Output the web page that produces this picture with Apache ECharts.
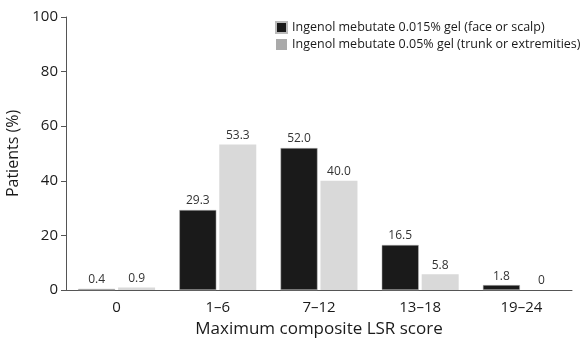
<!DOCTYPE html>
<html>
<head>
<meta charset="utf-8">
<script src="https://cdn.jsdelivr.net/npm/echarts@6/dist/echarts.min.js"></script>
<style>
  html, body { margin: 0; padding: 0; background: #fff; }
  #chart { width: 583px; height: 340px; }
</style>
</head>
<body>
<div id="chart"></div>
<script>
var categories = ['0', '1\u20136', '7\u201312', '13\u201318', '19\u201324']
var faceScalp = [0.4, 29.3, 52.0, 16.5, 1.8]
var trunkExtremities = [0.9, 53.3, 40.0, 5.8, 0]
var seriesNames = [
  'Ingenol mebutate 0.015% gel (face or scalp)',
  'Ingenol mebutate 0.05% gel (trunk or extremities)'
]

var font = 'Open Sans'
var chart = echarts.init(document.getElementById('chart'))

function fmt(p) {
  return p.value === 0 ? '0' : p.value.toFixed(1)
}

chart.setOption({
  animation: false,
  textStyle: { fontFamily: font },
  grid: { left: 66, right: 11, top: 17, bottom: 50, outerBoundsMode: 'none' },
  legend: {
    orient: 'vertical',
    left: 270,
    top: 16,
    icon: 'rect',
    itemWidth: 11,
    itemHeight: 11,
    itemGap: 4,
    textStyle: { fontSize: 12.5, color: '#1a1a1a', fontFamily: font },
    data: [
      { name: seriesNames[0], itemStyle: { color: '#1a1a1a' } },
      { name: seriesNames[1], itemStyle: { color: '#aaaaaa' } }
    ]
  },
  xAxis: {
    type: 'category',
    data: categories,
    name: 'Maximum composite LSR score',
    nameLocation: 'middle',
    nameGap: 31,
    nameTextStyle: { fontSize: 17, color: '#1a1a1a' },
    axisLine: { lineStyle: { color: '#555', width: 1 } },
    axisTick: { length: 6, lineStyle: { color: '#555' } },
    axisLabel: { fontSize: 15, color: '#1a1a1a', margin: 10 }
  },
  yAxis: {
    type: 'value',
    min: 0,
    max: 100,
    interval: 20,
    name: 'Patients (%)',
    nameLocation: 'middle',
    nameGap: 41,
    nameTextStyle: { fontSize: 16, color: '#1a1a1a' },
    axisLine: { show: true, lineStyle: { color: '#555', width: 1 } },
    axisTick: { show: true, length: 5, lineStyle: { color: '#555' } },
    axisLabel: { fontSize: 15, color: '#1a1a1a', margin: 8 },
    splitLine: { show: false }
  },
  series: [
    {
      name: seriesNames[0],
      type: 'bar',
      data: faceScalp,
      barWidth: 37,
      barGap: '8%',
      itemStyle: { color: '#1a1a1a', borderColor: '#bbb', borderWidth: 0.5 },
      label: { show: true, position: 'top', distance: 3, fontSize: 12, color: '#333', formatter: fmt }
    },
    {
      name: seriesNames[1],
      type: 'bar',
      data: trunkExtremities,
      barWidth: 37,
      itemStyle: { color: '#d9d9d9' },
      label: { show: true, position: 'top', distance: 3, fontSize: 12, color: '#333', formatter: fmt }
    }
  ]
})
</script>
</body>
</html>
